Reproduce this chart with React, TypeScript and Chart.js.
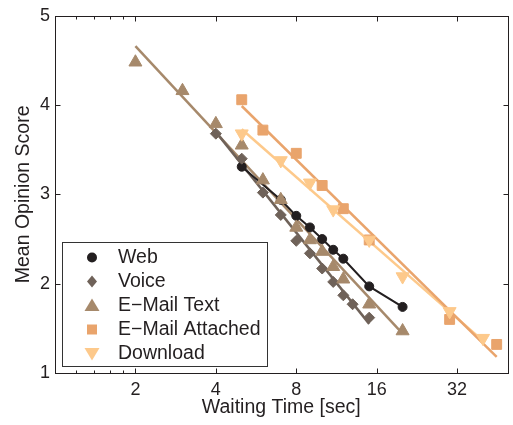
import React, { useEffect, useRef } from 'react';
import { Chart, registerables } from 'chart.js';

Chart.register(...registerables);

const FONT = '"Liberation Sans", Arial, Helvetica, sans-serif';
const INK = '#231F20';

// Axis ticks
const xTickValues = [2, 4, 8, 16, 32];
const xMinorTickValues = [1.2, 1.4, 1.6, 1.8];
const yTickValues = [1, 2, 3, 4, 5];

// Series names
const seriesNames = ['Web', 'Voice', 'E\u2212Mail Text', 'E\u2212Mail Attached', 'Download'];

// Web (measured, connected)
const webX = [5, 7, 8, 9, 10, 11, 12, 15, 20];
const webY = [3.31, 2.94, 2.76, 2.63, 2.5, 2.38, 2.28, 1.97, 1.74];

// Voice
const voiceX = [4, 5, 6, 7, 8, 9, 10, 11, 12, 13, 15];
const voiceY = [3.68, 3.4, 3.02, 2.77, 2.48, 2.34, 2.17, 2.02, 1.87, 1.77, 1.62];
const voiceFitX = [4, 15];
const voiceFitY = [3.7, 1.55];

// E-Mail Text
const textX = [2, 3, 4, 5, 6, 7, 8, 9, 10, 11, 12, 15, 20];
const textY = [4.48, 4.16, 3.79, 3.55, 3.16, 2.94, 2.63, 2.49, 2.36, 2.19, 2.05, 1.77, 1.47];
const textFitX = [2, 20];
const textFitY = [4.66, 1.44];

// E-Mail Attached
const attachedX = [5, 6, 8, 10, 12, 15, 30, 45];
const attachedY = [4.06, 3.72, 3.46, 3.1, 2.84, 2.49, 1.6, 1.32];
const attachedFitX = [5, 45];
const attachedFitY = [3.99, 1.18];

// Download
const downloadX = [5, 7, 9, 11, 15, 20, 30, 40];
const downloadY = [3.68, 3.38, 3.13, 2.83, 2.49, 2.08, 1.69, 1.39];
const downloadFitX = [5, 40];
const downloadFitY = [3.73, 1.36];

const colors = {
  web: '#231F20',
  voice: '#6F6259',
  text: '#A6896B',
  attached: '#E9A46C',
  download: '#FDC98B',
};

const pts = (xs: number[], ys: number[]) => xs.map((x, i) => ({ x, y: ys[i] }));

type MarkerKind = 'circle' | 'diamond' | 'triangle' | 'square' | 'triangleDown';

function drawMarker(ctx: CanvasRenderingContext2D, kind: MarkerKind, x: number, y: number, color: string) {
  ctx.save();
  ctx.fillStyle = color;
  ctx.beginPath();
  if (kind === 'circle') {
    ctx.arc(x, y, 5, 0, Math.PI * 2);
  } else if (kind === 'diamond') {
    ctx.moveTo(x, y - 6);
    ctx.lineTo(x + 5, y);
    ctx.lineTo(x, y + 6);
    ctx.lineTo(x - 5, y);
  } else if (kind === 'triangle') {
    ctx.moveTo(x, y - 7);
    ctx.lineTo(x + 7.5, y + 5.5);
    ctx.lineTo(x - 7.5, y + 5.5);
  } else if (kind === 'square') {
    ctx.rect(x - 5, y - 5, 10, 10);
  } else {
    ctx.moveTo(x, y + 7);
    ctx.lineTo(x + 7.5, y - 5.5);
    ctx.lineTo(x - 7.5, y - 5.5);
  }
  ctx.closePath();
  ctx.fill();
  ctx.restore();
}

const legendKinds: MarkerKind[] = ['circle', 'diamond', 'triangle', 'square', 'triangleDown'];
const legendColors = [colors.web, colors.voice, colors.text, colors.attached, colors.download];

const framePlugin = {
  id: 'matlabFrame',
  afterDatasetsDraw(chart: any) {
    const { ctx, chartArea: a, scales } = chart;
    const xs = scales.x;
    const ys = scales.y;
    const L = Math.round(a.left) + 0.5;
    const R = Math.round(a.right) + 0.5;
    const T = Math.round(a.top) + 0.5;
    const B = Math.round(a.bottom) + 0.5;
    ctx.save();
    ctx.strokeStyle = INK;
    ctx.lineWidth = 1;
    ctx.strokeRect(L, T, R - L, B - T);
    ctx.beginPath();
    yTickValues.forEach((v) => {
      const py = Math.round(ys.getPixelForValue(v)) + 0.5;
      ctx.moveTo(L, py); ctx.lineTo(L + 5, py);
      ctx.moveTo(R, py); ctx.lineTo(R - 5, py);
    });
    xTickValues.forEach((v) => {
      const px = Math.round(xs.getPixelForValue(v)) + 0.5;
      ctx.moveTo(px, B); ctx.lineTo(px, B - 5);
      ctx.moveTo(px, T); ctx.lineTo(px, T + 5);
    });
    xMinorTickValues.forEach((v) => {
      const px = Math.round(xs.getPixelForValue(v)) + 0.5;
      ctx.moveTo(px, B); ctx.lineTo(px, B - 3);
      ctx.moveTo(px, T); ctx.lineTo(px, T + 3);
    });
    ctx.stroke();
    ctx.restore();
  },
  afterDraw(chart: any) {
    const { ctx } = chart;
    ctx.save();
    // legend box
    ctx.fillStyle = '#ffffff';
    ctx.fillRect(62.5, 242.5, 205, 124);
    ctx.strokeStyle = '#333333';
    ctx.lineWidth = 1;
    ctx.strokeRect(62.5, 242.5, 205, 124);
    const baselines = [263, 287, 311, 335, 359];
    ctx.font = `19.5px ${FONT}`;
    ctx.textAlign = 'left';
    ctx.textBaseline = 'alphabetic';
    seriesNames.forEach((name, i) => {
      drawMarker(ctx, legendKinds[i], 92, baselines[i] - 5.5, legendColors[i]);
      ctx.fillStyle = INK;
      ctx.fillText(name, 118, baselines[i]);
    });
    ctx.restore();
  },
};

export default function App() {
  const canvasRef = useRef<HTMLCanvasElement | null>(null);

  useEffect(() => {
    if (!canvasRef.current) return;
    const fitLine = (xs: number[], ys: number[], color: string) => ({
      type: 'line' as const,
      data: pts(xs, ys),
      borderColor: color,
      backgroundColor: color,
      borderWidth: 2.5,
      pointRadius: 0,
      showLine: true,
      fill: false,
      tension: 0,
      order: 20,
    });
    const marker = (xs: number[], ys: number[], color: string, style: string, radius: number, order: number, rotation = 0) => ({
      data: pts(xs, ys),
      borderColor: color,
      backgroundColor: color,
      pointStyle: style,
      pointRadius: radius,
      pointRotation: rotation,
      pointBorderWidth: 1,
      showLine: false,
      order,
    });

    const chart = new Chart(canvasRef.current, {
      type: 'scatter',
      data: {
        datasets: [
          fitLine(voiceFitX, voiceFitY, colors.voice),
          fitLine(textFitX, textFitY, colors.text),
          fitLine(attachedFitX, attachedFitY, colors.attached),
          fitLine(downloadFitX, downloadFitY, colors.download),
          {
            ...marker(webX, webY, colors.web, 'circle', 4.5, 5),
            showLine: true,
            borderWidth: 2,
            tension: 0,
          },
          marker(voiceX, voiceY, colors.voice, 'rectRot', 5.5, 4),
          marker(textX, textY, colors.text, 'triangle', 7.5, 3),
          marker(attachedX, attachedY, colors.attached, 'rect', 7, 2),
          marker(downloadX, downloadY, colors.download, 'triangle', 7.5, 1, 180),
        ] as any,
      },
      options: {
        responsive: false,
        animation: false,
        devicePixelRatio: 1,
        layout: { padding: { top: 10, right: 1, left: 0, bottom: 0 } },
        plugins: { legend: { display: false }, tooltip: { enabled: false } },
        scales: {
          x: {
            type: 'logarithmic',
            min: 1,
            max: 49.4,
            position: 'bottom',
            afterBuildTicks: (s: any) => {
              s.ticks = xTickValues.map((v) => ({ value: v }));
            },
            afterFit: (s: any) => {
              s.height = 52;
            },
            grid: { display: false, drawTicks: false },
            border: { display: false },
            ticks: {
              autoSkip: false,
              maxRotation: 0,
              padding: 6,
              color: INK,
              font: { family: FONT, size: 18 },
              callback: (v: any) => String(v),
            },
            title: {
              display: true,
              text: 'Waiting Time [sec]',
              color: INK,
              font: { family: FONT, size: 19.5 },
              padding: { top: 0, bottom: 6 },
            },
          },
          y: {
            type: 'linear',
            min: 1,
            max: 5,
            afterBuildTicks: (s: any) => {
              s.ticks = yTickValues.map((v) => ({ value: v }));
            },
            afterFit: (s: any) => {
              s.width = 55;
            },
            grid: { display: false, drawTicks: false },
            border: { display: false },
            ticks: {
              padding: 5,
              color: INK,
              font: { family: FONT, size: 18 },
              callback: (v: any) => String(v),
            },
            title: {
              display: true,
              text: 'Mean Opinion Score',
              color: INK,
              font: { family: FONT, size: 19.5 },
              padding: { top: 12, bottom: 0 },
            },
          },
        },
      } as any,
      plugins: [framePlugin],
    });
    return () => chart.destroy();
  }, []);

  return (
    <div style={{ position: 'fixed', left: 0, top: 0, width: 513, height: 425, overflow: 'hidden', background: '#fff' }}>
      <canvas ref={canvasRef} width={516} height={425} style={{ display: 'block' }} />
    </div>
  );
}
